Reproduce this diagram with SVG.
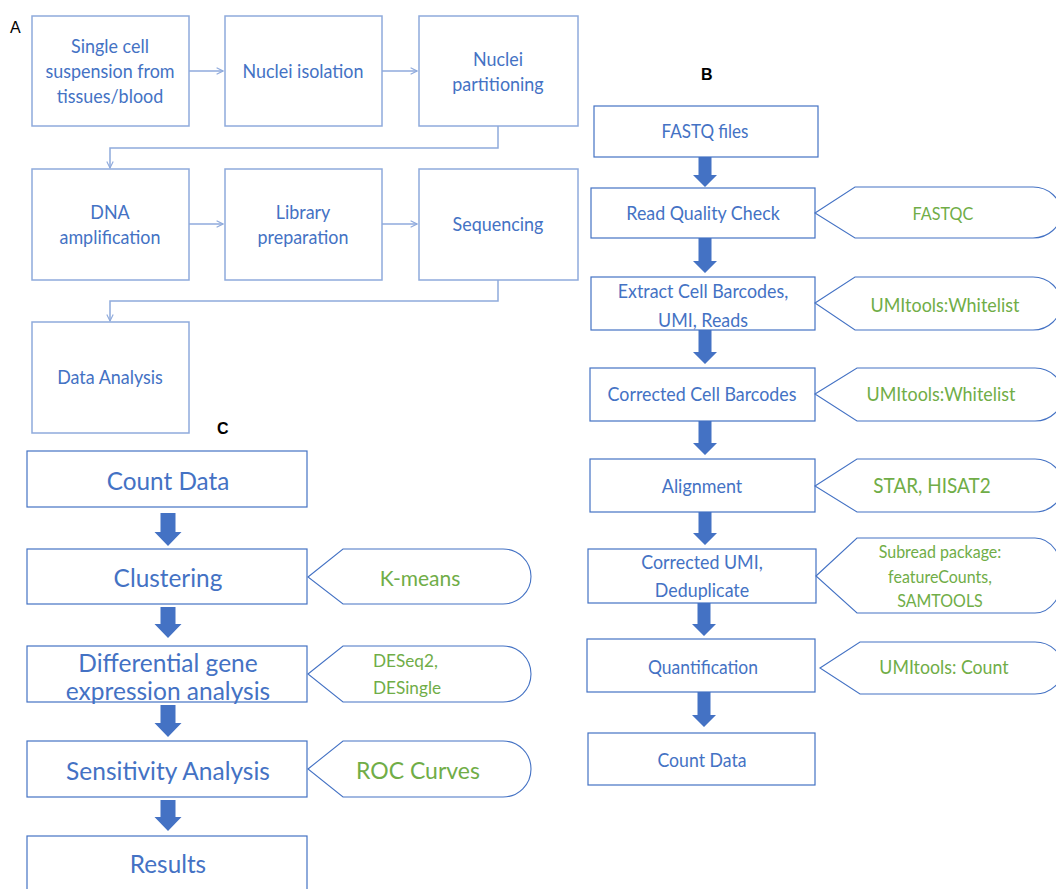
<svg xmlns="http://www.w3.org/2000/svg" width="1056" height="889" viewBox="0 0 1056 889">
<defs>
<style>
.bg{fill:#ffffff}
.boxA{fill:#ffffff;stroke:#8FAADC;stroke-width:1.5}
.box{fill:#ffffff;stroke:#4472C4;stroke-width:1.2}
.disp{fill:#ffffff;stroke:#4472C4;stroke-width:1.1}
.t{font-family:Lato,"Liberation Sans",sans-serif;fill:#4472C4;text-anchor:middle;dominant-baseline:central}
.g{font-family:Lato,"Liberation Sans",sans-serif;fill:#70AD47;text-anchor:middle;dominant-baseline:central}
.st{text-anchor:start}
.sc{transform-box:fill-box;transform-origin:center;transform:scaleX(0.92)}
.lbl{font-family:"Liberation Sans",Arial,sans-serif;fill:#000000}
.thin{fill:none;stroke:#8FAADC;stroke-width:1.5}
.blk{fill:#4472C4;stroke:none}
</style>
<marker id="open" viewBox="0 0 10 10" refX="9" refY="5" markerWidth="8" markerHeight="8" markerUnits="userSpaceOnUse" orient="auto">
<path d="M1,1 L9,5 L1,9" fill="none" stroke="#8FAADC" stroke-width="1.4"/>
</marker>
</defs>
<rect class="bg" x="0" y="0" width="1056" height="889"/>

<!-- Panel labels -->
<text class="lbl" x="10" y="33" font-size="16">A</text>
<text class="lbl" x="701" y="80" font-size="16" font-weight="bold">B</text>
<text class="lbl" x="217" y="434" font-size="16" font-weight="bold">C</text>

<!-- Connectors -->
<g id="connectors">
<line class="thin" x1="189" y1="71" x2="223" y2="71" marker-end="url(#open)"/>
<line class="thin" x1="382" y1="71" x2="417" y2="71" marker-end="url(#open)"/>
<polyline class="thin" points="498,126 498,148 110,148 110,168" marker-end="url(#open)"/>
<line class="thin" x1="189" y1="224" x2="223" y2="224" marker-end="url(#open)"/>
<line class="thin" x1="382" y1="224" x2="417" y2="224" marker-end="url(#open)"/>
<polyline class="thin" points="498,280 498,301 110,301 110,321" marker-end="url(#open)"/>

<path class="blk" d="M698.5,156 H711.5 V175 H717 L705,187 L693,175 H698.5 Z"/>
<path class="blk" d="M698.5,238 H711.5 V261 H717 L705,273 L693,261 H698.5 Z"/>
<path class="blk" d="M698.5,330 H711.5 V352 H717 L705,364 L693,352 H698.5 Z"/>
<path class="blk" d="M698.5,421 H711.5 V443 H717 L705,455 L693,443 H698.5 Z"/>
<path class="blk" d="M698.5,512 H711.5 V533 H717 L705,545 L693,533 H698.5 Z"/>
<path class="blk" d="M697.5,603 H710.5 V624 H716 L704,636 L692,624 H697.5 Z"/>
<path class="blk" d="M697.5,692 H710.5 V715 H716 L704,727 L692,715 H697.5 Z"/>

<path class="blk" d="M160.5,513 H175.5 V532 H181.5 L168,546 L154.5,532 H160.5 Z"/>
<path class="blk" d="M160.5,607 H175.5 V624 H181.5 L168,638 L154.5,624 H160.5 Z"/>
<path class="blk" d="M160.5,705 H175.5 V723 H181.5 L168,737 L154.5,723 H160.5 Z"/>
<path class="blk" d="M160.5,800 H175.5 V817 H181.5 L168,831 L154.5,817 H160.5 Z"/>
</g>

<!-- Panel A -->
<g id="a-single-cell">
<rect class="boxA" x="32" y="16" width="157" height="110"/>
<text class="t sc" x="110" y="46" font-size="19.5">Single cell</text>
<text class="t sc" x="110" y="71" font-size="19.5">suspension from</text>
<text class="t sc" x="110" y="96" font-size="19.5">tissues/blood</text>
</g>
<g id="a-nuclei-isolation">
<rect class="boxA" x="225" y="16" width="157" height="110"/>
<text class="t sc" x="303" y="71" font-size="19.5">Nuclei isolation</text>
</g>
<g id="a-nuclei-partitioning">
<rect class="boxA" x="419" y="16" width="159" height="110"/>
<text class="t sc" x="498" y="59" font-size="19.5">Nuclei</text>
<text class="t sc" x="498" y="84" font-size="19.5">partitioning</text>
</g>
<g id="a-dna-amplification">
<rect class="boxA" x="32" y="169" width="157" height="111"/>
<text class="t sc" x="110" y="212" font-size="19.5">DNA</text>
<text class="t sc" x="110" y="237" font-size="19.5">amplification</text>
</g>
<g id="a-library-preparation">
<rect class="boxA" x="225" y="169" width="157" height="111"/>
<text class="t sc" x="303" y="212" font-size="19.5">Library</text>
<text class="t sc" x="303" y="237" font-size="19.5">preparation</text>
</g>
<g id="a-sequencing">
<rect class="boxA" x="419" y="169" width="159" height="111"/>
<text class="t sc" x="498" y="224" font-size="19.5">Sequencing</text>
</g>
<g id="a-data-analysis">
<rect class="boxA" x="32" y="322" width="157" height="111"/>
<text class="t sc" x="110" y="377" font-size="19.5">Data Analysis</text>
</g>

<!-- Panel B -->
<g id="b-fastq-files">
<rect class="box" x="594" y="106" width="224" height="51"/>
<text class="t sc" x="705" y="131" font-size="18.5">FASTQ files</text>
</g>
<g id="b-read-quality">
<rect class="box" x="591" y="188" width="224" height="50"/>
<text class="t sc" x="703" y="213" font-size="19.4">Read Quality Check</text>
</g>
<g id="b-fastqc">
<path class="disp" d="M815,213 L855,187 H1033 A28,25.5 0 0 1 1033,238 H855 Z"/>
<text class="g sc" x="943" y="213" font-size="17.6">FASTQC</text>
</g>
<g id="b-extract">
<rect class="box" x="591" y="277" width="224" height="53"/>
<text class="t sc" x="703" y="291" font-size="19.4">Extract Cell Barcodes,</text>
<text class="t sc" x="703" y="320" font-size="19.4">UMI, Reads</text>
</g>
<g id="b-whitelist1">
<path class="disp" d="M815,303 L855,277 H1033 A28,26.5 0 0 1 1033,330 H855 Z"/>
<text class="g sc" x="945" y="305" font-size="19.5">UMItools:Whitelist</text>
</g>
<g id="b-corrected-barcodes">
<rect class="box" x="590" y="368" width="225" height="53"/>
<text class="t sc" x="702" y="394" font-size="19.4">Corrected Cell Barcodes</text>
</g>
<g id="b-whitelist2">
<path class="disp" d="M815,394 L857,368 H1035 A28,26.5 0 0 1 1035,421 H857 Z"/>
<text class="g sc" x="941" y="394" font-size="19.5">UMItools:Whitelist</text>
</g>
<g id="b-alignment">
<rect class="box" x="590" y="459" width="225" height="53"/>
<text class="t sc" x="702" y="486" font-size="19.5">Alignment</text>
</g>
<g id="b-star">
<path class="disp" d="M815,486 L857,459 H1035 A28,26.5 0 0 1 1035,512 H857 Z"/>
<text class="g sc" x="932" y="485" font-size="20.6">STAR, HISAT2</text>
</g>
<g id="b-corrected-umi">
<rect class="box" x="588" y="549" width="228" height="54"/>
<text class="t sc" x="702" y="562" font-size="19.4">Corrected UMI,</text>
<text class="t sc" x="702" y="590" font-size="19.4">Deduplicate</text>
</g>
<g id="b-subread">
<path class="disp" d="M816,576 L857,538 H1035 A28,37.5 0 0 1 1035,613 H857 Z"/>
<text class="g sc" x="940" y="552" font-size="17.4">Subread package:</text>
<text class="g sc" x="940" y="577" font-size="17.4">featureCounts,</text>
<text class="g sc" x="940" y="601" font-size="17.4">SAMTOOLS</text>
</g>
<g id="b-quantification">
<rect class="box" x="587" y="639" width="228" height="53"/>
<text class="t sc" x="703" y="667" font-size="19">Quantification</text>
</g>
<g id="b-umitools-count">
<path class="disp" d="M820,668 L860,642 H1035 A28,26 0 0 1 1035,694 H860 Z"/>
<text class="g sc" x="944" y="667" font-size="19.3">UMItools: Count</text>
</g>
<g id="b-count-data">
<rect class="box" x="588" y="733" width="227" height="52"/>
<text class="t sc" x="702" y="760" font-size="19.2">Count Data</text>
</g>

<!-- Panel C -->
<g id="c-count-data">
<rect class="box" x="27" y="451" width="280" height="56"/>
<text class="t" x="168" y="480" font-size="24.3">Count Data</text>
</g>
<g id="c-clustering">
<rect class="box" x="27" y="549" width="280" height="55"/>
<text class="t" x="168" y="577" font-size="24.4">Clustering</text>
</g>
<g id="c-kmeans">
<path class="disp" d="M308,577 L343,549 H503 A28,27.5 0 0 1 503,604 H343 Z"/>
<text class="g" x="420" y="577" font-size="21">K-means</text>
</g>
<g id="c-differential">
<rect class="box" x="27" y="646" width="280" height="56"/>
<text class="t" x="168" y="662" font-size="24.5">Differential gene</text>
<text class="t" x="168" y="690" font-size="24.5">expression analysis</text>
</g>
<g id="c-deseq">
<path class="disp" d="M308,674 L343,646 H503 A28,28 0 0 1 503,702 H343 Z"/>
<text class="g st" x="373" y="660" font-size="17.2">DESeq2,</text>
<text class="g st" x="373" y="687" font-size="17.2">DESingle</text>
</g>
<g id="c-sensitivity">
<rect class="box" x="27" y="741" width="280" height="56"/>
<text class="t" x="168" y="770" font-size="24.5">Sensitivity Analysis</text>
</g>
<g id="c-roc">
<path class="disp" d="M308,769 L343,741 H503 A28,28 0 0 1 503,797 H343 Z"/>
<text class="g" x="418" y="770" font-size="23">ROC Curves</text>
</g>
<g id="c-results">
<rect class="box" x="27" y="836" width="280" height="60"/>
<text class="t" x="168" y="863" font-size="24.3">Results</text>
</g>
</svg>
